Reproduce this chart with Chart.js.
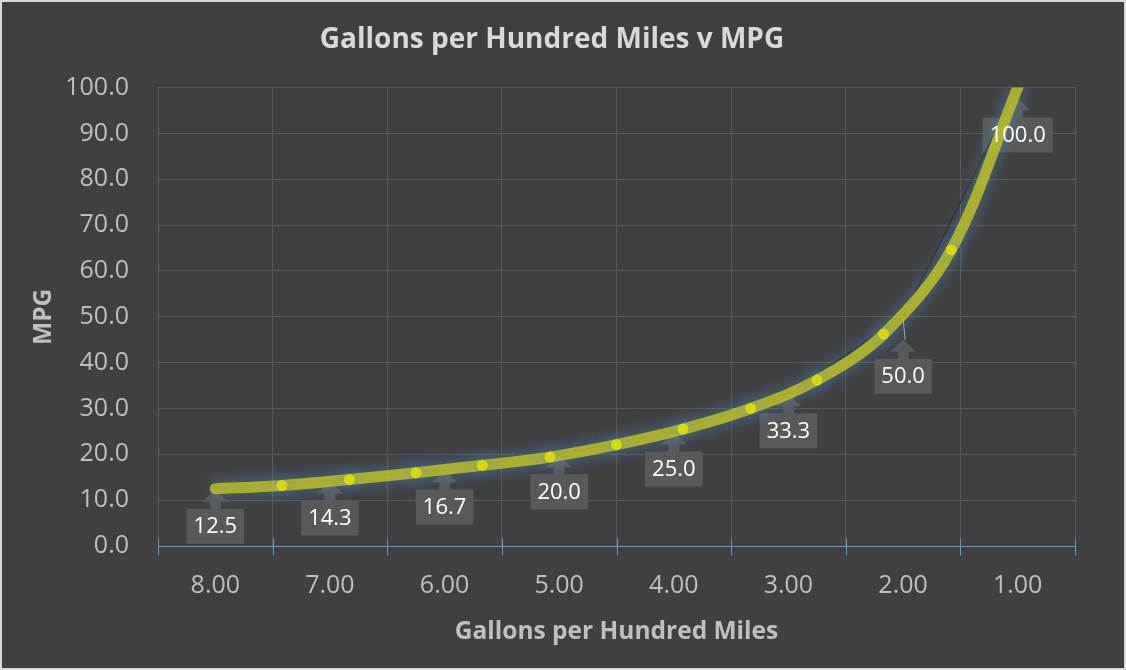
<!DOCTYPE html>
<html>
<head>
<meta charset="utf-8">
<title>Gallons per Hundred Miles v MPG</title>
<script src="https://cdn.jsdelivr.net/npm/chart.js@4.4.1/dist/chart.umd.min.js"></script>
<style>
  html, body { margin: 0; padding: 0; background: #404040; }
  #wrap { width: 1122px; height: 666px; border: 2px solid #d9d9d9; }
</style>
</head>
<body>
<div id="wrap"><canvas id="mpgChart" width="1122" height="666"></canvas></div>
<script>
// Data
const gpm = [8, 7, 6, 5, 4, 3, 2, 1]
const mpg = [12.5, 14.3, 16.7, 20.0, 25.0, 33.3, 50.0, 100.0]

// finer series drawn as the thick smoothed yellow curve with markers
const fineGpm = [8, 7.42, 6.83, 6.25, 5.67, 5.08, 4.5, 3.92, 3.33, 2.75, 2.17, 1.58, 1]
const fineMpg = [12.5, 13.2, 14.5, 16.0, 17.6, 19.4, 22.1, 25.5, 30.0, 36.2, 46.2, 64.6, 100.0]

const xMin = 0.5, xMax = 8.5, xStep = 0.5
const yMin = 0, yMax = 100, yStep = 10

// extra drop for some callouts (the 50.0 one was dragged down in the original)
const calloutDrop = [0, 0, 0, 0, 0, 0, 22, 10]

const FONT = '"Open Sans", "Noto Sans", sans-serif'

const toXY = (xs, ys) => xs.map((x, i) => ({ x: x, y: ys[i] }))

// glow behind the thick yellow curve
const glowPlugin = {
    id: 'glow',
    beforeDatasetDraw (chart, args) {
        if (chart.data.datasets[args.index].glow) {
            chart.ctx.save()
            chart.ctx.shadowColor = 'rgba(80, 145, 215, 0.75)'
            chart.ctx.shadowBlur = 16
        }
    },
    afterDatasetDraw (chart, args) {
        if (chart.data.datasets[args.index].glow) chart.ctx.restore()
    }
}

// blue category axis line with ticks crossing it
const axisPlugin = {
    id: 'blueAxis',
    beforeDatasetsDraw (chart) {
        const { ctx, scales: { x, y } } = chart
        const y0 = Math.round(y.getPixelForValue(0)) + 0.5
        ctx.save()
        ctx.strokeStyle = '#5b9bd5'
        ctx.lineWidth = 1
        ctx.beginPath()
        ctx.moveTo(x.left, y0)
        ctx.lineTo(x.right + 1, y0)
        x.ticks.forEach((t) => {
            if (!Number.isInteger(t.value)) {
                const px = Math.round(x.getPixelForValue(t.value)) + 0.5
                ctx.moveTo(px, y0 - 8)
                ctx.lineTo(px, y0 + 9)
            }
        })
        ctx.stroke()
        ctx.restore()
    }
}

// Excel style up-arrow callouts under each point of the main series
function calloutGeom (chart, i) {
    const pt = chart.getDatasetMeta(0).data[i]
    const tip = pt.y + 1 + calloutDrop[i]
    return { px: pt.x, py: pt.y, tip: tip, text: mpg[i].toFixed(1) }
}

const calloutPlugin = {
    id: 'callouts',
    beforeDatasetsDraw (chart) {
        const ctx = chart.ctx
        ctx.save()
        ctx.font = '22px ' + FONT
        mpg.forEach((v, i) => {
            const g = calloutGeom(chart, i)
            const w = ctx.measureText(g.text).width + 14
            if (calloutDrop[i] > 15) {
                ctx.strokeStyle = '#a6a6a6'
                ctx.lineWidth = 1
                ctx.beginPath()
                ctx.moveTo(g.px, g.py)
                ctx.lineTo(g.px + 2, g.tip)
                ctx.stroke()
            }
            ctx.fillStyle = '#595959'
            ctx.beginPath()
            ctx.moveTo(g.px, g.tip)
            ctx.lineTo(g.px + 13, g.tip + 12)
            ctx.lineTo(g.px + 5.5, g.tip + 12)
            ctx.lineTo(g.px + 5.5, g.tip + 19)
            ctx.lineTo(g.px + w / 2, g.tip + 19)
            ctx.lineTo(g.px + w / 2, g.tip + 54)
            ctx.lineTo(g.px - w / 2, g.tip + 54)
            ctx.lineTo(g.px - w / 2, g.tip + 19)
            ctx.lineTo(g.px - 5.5, g.tip + 19)
            ctx.lineTo(g.px - 5.5, g.tip + 12)
            ctx.lineTo(g.px - 13, g.tip + 12)
            ctx.closePath()
            ctx.fill()
        })
        ctx.restore()
    },
    afterDatasetsDraw (chart) {
        const ctx = chart.ctx
        ctx.save()
        ctx.font = '22px ' + FONT
        ctx.fillStyle = '#ffffff'
        ctx.textAlign = 'center'
        ctx.textBaseline = 'middle'
        mpg.forEach((v, i) => {
            const g = calloutGeom(chart, i)
            ctx.fillText(g.text, g.px, g.tip + 37)
        })
        ctx.restore()
    }
}

new Chart(document.getElementById('mpgChart'), {
    type: 'line',
    data: {
        datasets: [
            {
                // main series: thin straight dark line
                data: toXY(gpm, mpg),
                borderColor: '#2a2a2a',
                borderWidth: 1.5,
                tension: 0,
                pointRadius: 0,
                order: 2
            },
            {
                // finer series: thick smoothed glowing curve with markers
                data: toXY(fineGpm, fineMpg),
                borderColor: 'rgba(198, 198, 30, 0.8)',
                borderWidth: 11,
                borderCapStyle: 'round',
                borderJoinStyle: 'round',
                tension: 0.35,
                capBezierPoints: false,
                pointRadius: (c) => (c.dataIndex === 0 || c.dataIndex === fineGpm.length - 1) ? 0 : 5.5,
                pointBorderWidth: 0,
                pointBackgroundColor: '#d8d80a',
                glow: true,
                order: 1
            }
        ]
    },
    options: {
        responsive: false,
        animation: false,
        events: [],
        layout: { padding: { left: 27, right: 49, top: 0, bottom: 21 } },
        plugins: {
            legend: { display: false },
            tooltip: { enabled: false },
            title: {
                display: true,
                text: 'Gallons per Hundred Miles v MPG',
                color: '#d9d9d9',
                font: { family: FONT, size: 28, weight: 'bold', lineHeight: 1.2 },
                padding: { top: 21, bottom: 31 }
            }
        },
        scales: {
            x: {
                type: 'linear',
                reverse: true,
                min: xMin,
                max: xMax,
                afterFit: (scale) => { scale.height = 101 },
                border: { display: false },
                grid: {
                    color: (c) => Number.isInteger(c.tick.value) ? 'rgba(0,0,0,0)' : '#595959',
                    drawTicks: false
                },
                ticks: {
                    stepSize: xStep,
                    autoSkip: false,
                    maxRotation: 0,
                    padding: 25,
                    color: '#bfbfbf',
                    font: { family: FONT, size: 25 },
                    callback: (v) => Number.isInteger(v) ? v.toFixed(2) : ''
                },
                title: {
                    display: true,
                    text: 'Gallons per Hundred Miles',
                    color: '#bfbfbf',
                    font: { family: FONT, size: 24.5, weight: 'bold', lineHeight: 1.2 },
                    padding: 0
                }
            },
            y: {
                min: yMin,
                max: yMax,
                afterFit: (scale) => { scale.width = 129 },
                border: { display: false },
                grid: { color: '#595959', drawTicks: false },
                ticks: {
                    stepSize: yStep,
                    padding: 29,
                    color: '#bfbfbf',
                    font: { family: FONT, size: 25 },
                    callback: (v) => v.toFixed(1)
                },
                title: {
                    display: true,
                    text: 'MPG',
                    color: '#bfbfbf',
                    font: { family: FONT, size: 24.5, weight: 'bold', lineHeight: 1.2 },
                    padding: 0
                }
            }
        }
    },
    plugins: [axisPlugin, calloutPlugin, glowPlugin]
})
</script>
</body>
</html>
